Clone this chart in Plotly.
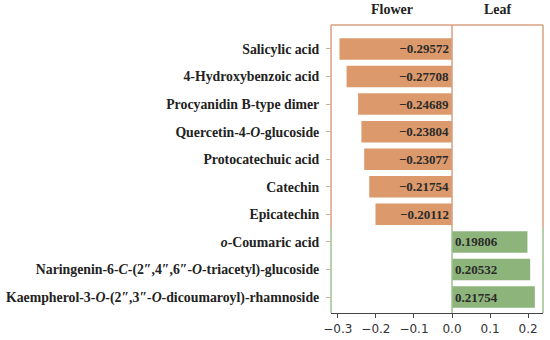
import plotly.graph_objects as go

flower_compounds = [
    "Salicylic acid",
    "4-Hydroxybenzoic acid",
    "Procyanidin B-type dimer",
    "Quercetin-4-<i>O</i>-glucoside",
    "Protocatechuic acid",
    "Catechin",
    "Epicatechin",
]
flower_values = [-0.29572, -0.27708, -0.24689, -0.23804, -0.23077, -0.21754, -0.20112]

leaf_compounds = [
    "<i>o</i>-Coumaric acid",
    "Naringenin-6-<i>C</i>-(2″,4″,6″-<i>O</i>-triacetyl)-glucoside",
    "Kaempherol-3-<i>O</i>-(2″,3″-<i>O</i>-dicoumaroyl)-rhamnoside",
]
leaf_values = [0.19806, 0.20532, 0.21754]

x_ticks = [-0.3, -0.2, -0.1, 0.0, 0.1, 0.2]
group_titles = ["Flower", "Leaf"]

ORANGE = "#DC9A6C"
GREEN = "#8DB47B"
ORANGE_LINE = "#D9A080"
GREEN_LINE = "#9DC08F"

all_cats = flower_compounds + leaf_compounds
n = len(all_cats)
ypos = list(range(n))
fl_y = ypos[:len(flower_compounds)]
lf_y = ypos[len(flower_compounds):]

def fmt(v):
    return f"{v:.5f}".replace("-", "−")

serif = "Liberation Serif"

fig = go.Figure()
fig.add_trace(go.Bar(
    y=fl_y, x=flower_values, orientation="h", width=0.78,
    marker=dict(color=ORANGE, line=dict(width=0)),
    text=[fmt(v) for v in flower_values], textposition="inside",
    insidetextanchor="start", textangle=0,
    textfont=dict(family=serif, size=13, color="#2a2a2a", weight="bold"),
    showlegend=False,
))
fig.add_trace(go.Bar(
    y=lf_y, x=leaf_values, orientation="h", width=0.78,
    marker=dict(color=GREEN, line=dict(width=0)),
    text=[fmt(v) for v in leaf_values], textposition="inside",
    insidetextanchor="start", textangle=0,
    textfont=dict(family=serif, size=13, color="#2a2a2a", weight="bold"),
    showlegend=False,
))

XMIN, XMAX = -0.318, 0.239
YTOP, YBOT = -0.87, 9.58
split = len(flower_compounds) - 0.5

shapes = []
def seg(xref, yref, x0, y0, x1, y1, c):
    shapes.append(dict(type="line", xref=xref, yref=yref, x0=x0, y0=y0, x1=x1, y1=y1,
                       line=dict(color=c, width=1.5), layer="above"))
# orange part
seg("paper", "paper", 0, 1, 1, 1, ORANGE_LINE)
seg("paper", "y", 0, YTOP, 0, split, ORANGE_LINE)
seg("paper", "y", 1, YTOP, 1, split, ORANGE_LINE)
seg("x", "y", 0, YTOP, 0, split, ORANGE_LINE)
# green part
seg("paper", "y", 0, split, 0, YBOT, GREEN_LINE)
seg("paper", "y", 1, split, 1, YBOT, GREEN_LINE)
seg("x", "y", 0, split, 0, YBOT, GREEN_LINE)

annotations = [
    dict(x=(XMIN + 0) / 2, y=1.0, xref="x", yref="paper", yanchor="bottom", yshift=6,
         text=f"<b>{group_titles[0]}</b>", showarrow=False,
         font=dict(family=serif, size=14, color="#222")),
    dict(x=(0 + XMAX) / 2, y=1.0, xref="x", yref="paper", yanchor="bottom", yshift=6,
         text=f"<b>{group_titles[1]}</b>", showarrow=False,
         font=dict(family=serif, size=14, color="#222")),
]

fig.update_layout(
    width=550, height=340,
    margin=dict(l=331, r=7, t=25, b=27, autoexpand=False),
    paper_bgcolor="white", plot_bgcolor="white",
    barmode="overlay",
    shapes=shapes, annotations=annotations,
    xaxis=dict(range=[XMIN, XMAX], tickvals=x_ticks, automargin=False,
               ticktext=[f"{t:.1f}".replace("-", "−") for t in x_ticks],
               showgrid=False, zeroline=False,
               showline=True, linecolor="#444", linewidth=1.2,
               ticks="outside", ticklen=4, tickcolor="#444",
               tickfont=dict(family="DejaVu Sans", size=12, color="#333")),
    yaxis=dict(range=[YBOT, YTOP], tickvals=ypos, automargin=False,
               ticktext=[f"<b>{c}</b>" for c in all_cats],
               showgrid=False, zeroline=False, showline=False,
               ticks="outside", ticklen=4, tickcolor="#C8B0A0",
               ticklabelstandoff=4,
               tickfont=dict(family=serif, size=13.8, color="#222")),
)

fig.write_html("out.html", config={"displayModeBar": False},
               post_script="document.body.style.margin='0';")
